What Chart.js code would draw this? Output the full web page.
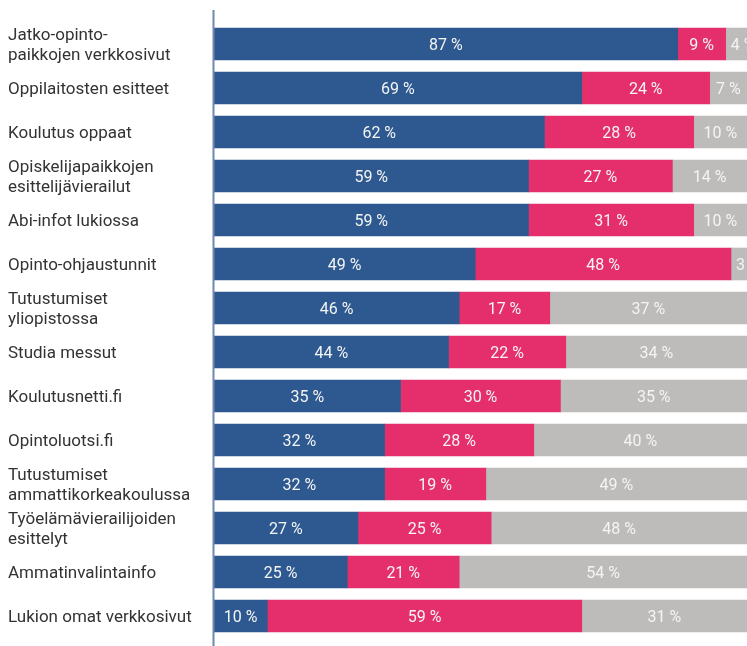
<!DOCTYPE html>
<html>
<head>
<meta charset="utf-8">
<script src="https://cdn.jsdelivr.net/npm/chart.js@4"></script>
<style>
html,body{margin:0;padding:0;background:#fff;}
#wrap{width:747px;height:646px;position:relative;}
</style>
</head>
<body>
<div id="wrap"><canvas id="c" width="747" height="646"></canvas></div>
<script>
const categories = [
  ["Jatko-opinto-", "paikkojen verkkosivut"],
  "Oppilaitosten esitteet",
  "Koulutus oppaat",
  ["Opiskelijapaikkojen", "esittelijävierailut"],
  "Abi-infot lukiossa",
  "Opinto-ohjaustunnit",
  ["Tutustumiset", "yliopistossa"],
  "Studia messut",
  "Koulutusnetti.fi",
  "Opintoluotsi.fi",
  ["Tutustumiset", "ammattikorkeakoulussa"],
  ["Työelämävierailijoiden", "esittelyt"],
  "Ammatinvalintainfo",
  "Lukion omat verkkosivut"
];
const seriesBlue = [87, 69, 62, 59, 59, 49, 46, 44, 35, 32, 32, 27, 25, 10];
const seriesPink = [9, 24, 28, 27, 31, 48, 17, 22, 30, 28, 19, 25, 21, 59];
const seriesGray = [4, 7, 10, 14, 10, 3, 37, 34, 35, 40, 49, 48, 54, 31];

const FONT = "Roboto, 'DejaVu Sans', sans-serif";

const labelPlugin = {
  id: 'segLabels',
  afterDatasetsDraw(chart) {
    const ctx = chart.ctx;
    ctx.save();
    ctx.font = "16px " + FONT;
    ctx.fillStyle = "#f4f4f4";
    ctx.textBaseline = "middle";
    chart.data.datasets.forEach((ds, di) => {
      const meta = chart.getDatasetMeta(di);
      meta.data.forEach((bar, i) => {
        const v = ds.data[i];
        const txt = v + " %";
        const left = Math.min(bar.x, bar.base);
        const right = Math.max(bar.x, bar.base);
        const h = bar.height;
        const w = ctx.measureText(txt).width;
        ctx.save();
        ctx.beginPath();
        ctx.rect(left, bar.y - h / 2, right - left, h);
        ctx.clip();
        if (w + 6 < right - left) {
          ctx.textAlign = "center";
          ctx.fillText(txt, (left + right) / 2, bar.y + 2);
        } else {
          ctx.textAlign = "left";
          ctx.fillText(txt, left + 5, bar.y + 2);
        }
        ctx.restore();
      });
    });
    ctx.restore();
  }
};

const catLabelPlugin = {
  id: 'catLabels',
  afterDraw(chart) {
    const ctx = chart.ctx;
    const ys = chart.scales.y;
    ctx.save();
    ctx.font = "17px " + FONT;
    ctx.fillStyle = "#333333";
    ctx.textAlign = "left";
    ctx.textBaseline = "middle";
    const lh = 20;
    chart.data.labels.forEach((lab, i) => {
      const lines = Array.isArray(lab) ? lab : [lab];
      const cy = ys.getPixelForValue(i) + 2;
      const y0 = cy - (lines.length - 1) * lh / 2;
      lines.forEach((ln, k) => ctx.fillText(ln, 8, y0 + k * lh));
    });
    ctx.restore();
  }
};

const axisLinePlugin = {
  id: 'axisLine',
  afterDraw(chart) {
    const ctx = chart.ctx;
    const x = chart.chartArea.left;
    ctx.save();
    ctx.strokeStyle = "#6f88ad";
    ctx.lineWidth = 2;
    ctx.beginPath();
    ctx.moveTo(x - 0.5, 10);
    ctx.lineTo(x - 0.5, 646);
    ctx.stroke();
    ctx.restore();
  }
};

new Chart(document.getElementById('c'), {
  type: 'bar',
  data: {
    labels: categories,
    datasets: [
      { data: seriesBlue, backgroundColor: "#2d5990", barThickness: 32 },
      { data: seriesPink, backgroundColor: "#e52f6d", barThickness: 32 },
      { data: seriesGray, backgroundColor: "#bebcbb", barThickness: 32 }
    ]
  },
  options: {
    indexAxis: 'y',
    responsive: false,
    animation: false,
    layout: { padding: { top: 22, bottom: 8, left: 0, right: 0 } },
    plugins: { legend: { display: false }, tooltip: { enabled: false } },
    scales: {
      x: {
        stacked: true, min: 0, max: 100, display: false
      },
      y: {
        stacked: true,
        grid: { display: false },
        border: { display: false },
        ticks: { display: false },
        afterFit(scale) { scale.width = 214; }
      }
    }
  },
  plugins: [labelPlugin, catLabelPlugin, axisLinePlugin]
});
</script>
</body>
</html>
